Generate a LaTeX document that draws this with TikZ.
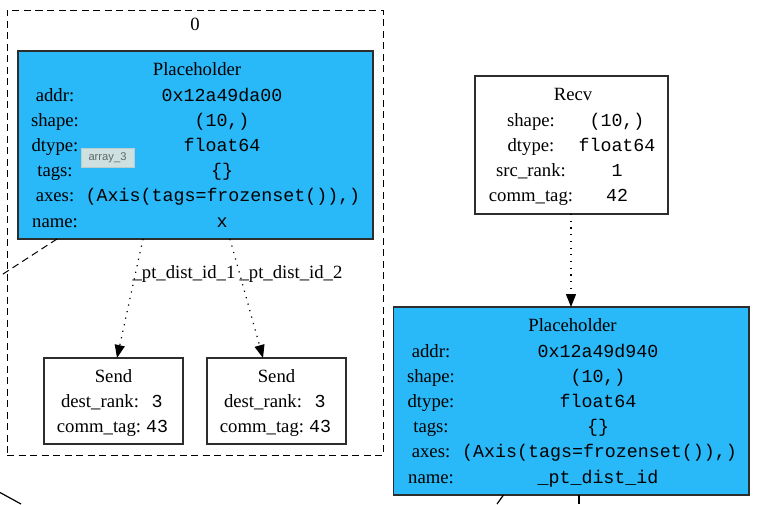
\documentclass[tikz,border=0pt]{standalone}
\usepackage{fontspec}
\setmainfont{Liberation Serif}
\setmonofont{Liberation Mono}
\newfontfamily\tipfont{Liberation Sans}
\usetikzlibrary{arrows.meta,calc}

\definecolor{phblue}{RGB}{41,184,248}
\definecolor{boxline}{RGB}{45,45,45}
\definecolor{tipfill}{RGB}{206,224,224}
\definecolor{tipline}{RGB}{185,205,205}
\definecolor{tiptext}{RGB}{95,105,105}

\newcommand{\kvrow}[6]{%
  \node[txt] (#1k) at (#2,#4) {#3};
  \node[mono] (#1v) at (#5,#4) {#6};
}

\begin{document}
\begin{tikzpicture}[x=1pt,y=-1pt,
  every node/.style={inner sep=0pt, outer sep=0pt},
  txt/.style={anchor=base, font=\fontsize{18.7}{22}\selectfont},
  mono/.style={anchor=base, font=\fontsize{18.3}{22}\selectfont\ttfamily},
  opbox/.style={draw=boxline, line width=1.3pt, anchor=north west},
  phbox/.style={opbox, fill=phblue},
  clusterbox/.style={draw=black, line width=1pt, dash pattern=on 7pt off 4.5pt, anchor=north west},
  dotedge/.style={line width=1.2pt, dash pattern=on 1.2pt off 5.5pt, -{Triangle[length=13pt,width=10pt]}},
  dashedge/.style={line width=1pt, dash pattern=on 7pt off 4.5pt},
  plainedge/.style={line width=1.2pt},
  tipbox/.style={draw=tipline, fill=tipfill, line width=0.8pt, minimum width=53pt, minimum height=19pt,
    font=\tipfont\fontsize{11.2}{13}\selectfont, text=tiptext}
]
\useasboundingbox (0,0) rectangle (765,504);

% cluster
\node[clusterbox, minimum width=376pt, minimum height=445pt] (c0) at (7,10) {};
\node[txt] (c0lbl) at (195,30) {0};

% Placeholder 1
\node[phbox, minimum width=355pt, minimum height=188pt] (ph1) at (18,51) {};
\node[txt] (ph1t) at (197,75) {Placeholder};
\kvrow{pa}{55}{addr:}{101}{222}{0x12a49da00}
\kvrow{pb}{55}{shape:}{126.2}{222}{(10,)}
\kvrow{pc}{55}{dtype:}{151.4}{222}{float64}
\kvrow{pd}{55}{tags:}{176.6}{222}{\{\}}
\kvrow{pe}{55}{axes:}{201.8}{223}{(Axis(tags=frozenset()),)}
\kvrow{pf}{55}{name:}{227}{222}{x}

% tooltip
\node[tipbox] (tip) at (107.5,157.5) {array\_3};

% Send boxes
\node[opbox, minimum width=139pt, minimum height=86pt] (s1) at (44,358) {};
\node[txt] (s1t) at (113.5,382) {Send};
\kvrow{sa}{100}{dest\_rank:}{407.5}{157}{3}
\kvrow{sb}{99}{comm\_tag:}{432.7}{157}{43}

\node[opbox, minimum width=139pt, minimum height=86pt] (s2) at (207,358) {};
\node[txt] (s2t) at (276.5,382) {Send};
\kvrow{ta}{263}{dest\_rank:}{407.5}{320}{3}
\kvrow{tb}{262}{comm\_tag:}{432.7}{320}{43}

% Recv
\node[opbox, minimum width=193pt, minimum height=138pt] (rv) at (475,76) {};
\node[txt] (rvt) at (573,100) {Recv};
\kvrow{ra}{531}{shape:}{126}{617}{(10,)}
\kvrow{rb}{531}{dtype:}{151.2}{617}{float64}
\kvrow{rc}{531}{src\_rank:}{176.4}{617}{1}
\kvrow{rd}{531}{comm\_tag:}{201.6}{617}{42}

% Placeholder 2
\node[phbox, minimum width=355.5pt, minimum height=188pt] (ph2) at (393.5,307) {};
\node[txt] (ph2t) at (572.5,331) {Placeholder};
\kvrow{qa}{431}{addr:}{357}{598}{0x12a49d940}
\kvrow{qb}{431}{shape:}{382.2}{598}{(10,)}
\kvrow{qc}{431}{dtype:}{407.4}{598}{float64}
\kvrow{qd}{431}{tags:}{432.6}{598}{\{\}}
\kvrow{qe}{431}{axes:}{457.8}{599.5}{(Axis(tags=frozenset()),)}
\kvrow{qf}{431}{name:}{483}{598}{\_pt\_dist\_id}

% edges
\draw[dotedge] ($(ph1.south west)+(125,0)$) -- ($(s1.north west)+(73,0)$);
\draw[dotedge] ($(ph1.south west)+(212,0)$) -- ($(s2.north west)+(56,0)$);
\node[txt] (e1) at (184,278.5) {\_pt\_dist\_id\_1};
\node[txt] (e2) at (291,278.5) {\_pt\_dist\_id\_2};

\draw[dotedge] ($(rv.south west)+(96,0)$) -- ($(ph2.north west)+(177.5,0)$);

\coordinate (x1) at (0,276);
\draw[dashedge] ($(ph1.south west)+(39,0)$) -- (x1);

\coordinate (x2) at (497,504);
\coordinate (x3) at (579,504);
\draw[plainedge] ($(ph2.south west)+(110,0)$) -- (x2);
\draw[plainedge] ($(ph2.south west)+(185.5,0)$) -- (x3);

\coordinate (x4) at (0,492.5);
\coordinate (x5) at (21,504);
\draw[plainedge] (x4) -- (x5);
\end{tikzpicture}
\end{document}
